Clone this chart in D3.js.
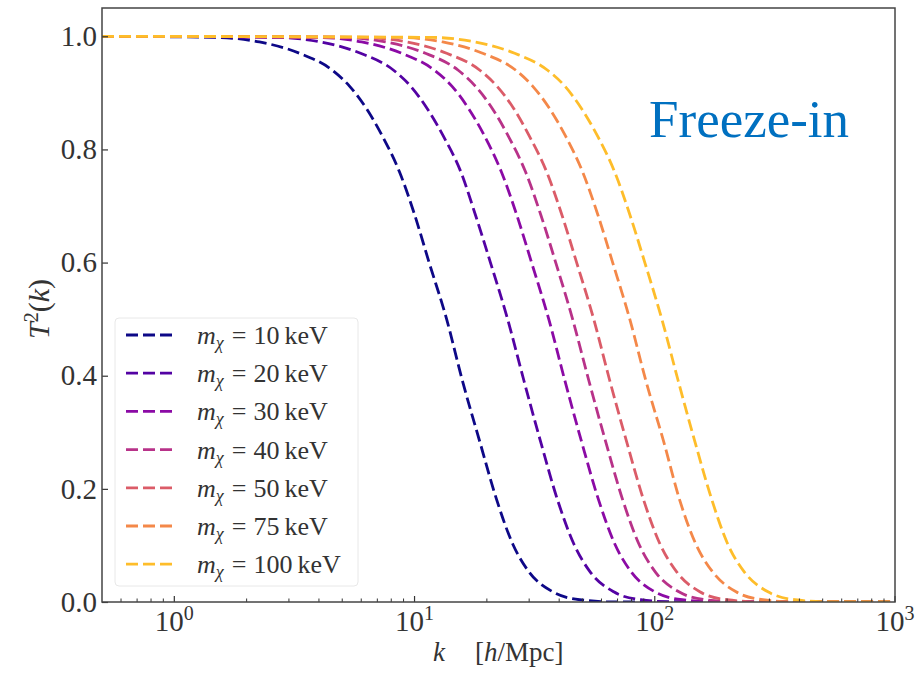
<!DOCTYPE html>
<html>
<head>
<meta charset="utf-8">
<script src="https://d3js.org/d3.v7.min.js"></script>
<style>
body { margin: 0; background: #fff; }
</style>
</head>
<body>
<div id="chart"></div>
<script>
// masses in keV, one curve each
const masses = [10, 20, 30, 40, 50, 75, 100];

// [k (h/Mpc), T^2(k)]
const t2_10 = [[0.5,1.0],[1.50,0.998],[2.26,0.990],[3.32,0.970],[4.55,0.940],[5.36,0.912],[6.31,0.872],[7.36,0.823],[8.66,0.760],[10.0,0.685],[11.5,0.600],[13.6,0.500],[15.8,0.392],[18.7,0.283],[22.0,0.180],[25.6,0.103],[30.1,0.052],[37.6,0.018],[48.7,0.004],[69.5,0.0],[1000,0]];
const t2_20 = [[0.5,1.0],[2.69,0.998],[4.06,0.990],[5.96,0.970],[8.18,0.940],[9.62,0.912],[11.3,0.872],[13.2,0.823],[15.6,0.760],[17.9,0.685],[20.7,0.600],[24.4,0.500],[28.5,0.392],[33.5,0.283],[39.4,0.180],[46.0,0.103],[54.1,0.052],[67.5,0.018],[87.4,0.004],[125,0.0],[1000,0]];
const t2_30 = [[0.5,1.0],[3.98,0.998],[6.02,0.990],[8.83,0.970],[12.1,0.940],[14.3,0.912],[16.8,0.872],[19.6,0.823],[23.0,0.760],[26.6,0.685],[30.7,0.600],[36.2,0.500],[42.2,0.392],[49.6,0.283],[58.4,0.180],[68.1,0.103],[80.2,0.052],[100,0.018],[130,0.004],[185,0.0],[1000,0]];
const t2_40 = [[0.5,1.0],[5.01,0.998],[7.57,0.990],[11.1,0.970],[15.2,0.940],[17.9,0.912],[21.1,0.872],[24.6,0.823],[29.0,0.760],[33.5,0.685],[38.7,0.600],[45.5,0.500],[53.1,0.392],[62.5,0.283],[73.6,0.180],[85.8,0.103],[101,0.052],[126,0.018],[163,0.004],[233,0.0],[1000,0]];
const t2_50 = [[0.5,1.0],[6.13,0.998],[9.26,0.990],[13.6,0.970],[18.7,0.940],[22.0,0.912],[25.9,0.872],[30.1,0.823],[35.5,0.760],[41.0,0.685],[47.3,0.600],[55.7,0.500],[64.9,0.392],[76.4,0.283],[89.9,0.180],[105,0.103],[124,0.052],[154,0.018],[200,0.004],[285,0.0],[1000,0]];
const t2_75 = [[0.5,1.0],[8.66,0.998],[13.1,0.990],[19.2,0.970],[26.4,0.940],[31.0,0.912],[36.5,0.872],[42.6,0.823],[50.1,0.760],[57.9,0.685],[66.8,0.600],[78.7,0.500],[91.7,0.392],[109,0.283],[127,0.180],[148,0.103],[175,0.052],[218,0.018],[282,0.004],[402,0.0],[1000,0]];
const t2_100 = [[0.5,1.0],[11.8,0.998],[17.8,0.990],[26.1,0.970],[35.8,0.940],[42.2,0.912],[49.6,0.872],[57.9,0.823],[68.1,0.760],[78.7,0.685],[90.9,0.600],[107,0.500],[125,0.392],[147,0.283],[173,0.180],[201,0.103],[237,0.052],[296,0.018],[383,0.004],[546,0.0],[1000,0]];
const series = [t2_10, t2_20, t2_30, t2_40, t2_50, t2_75, t2_100];

const yTicks = [0, 0.2, 0.4, 0.6, 0.8, 1.0];
const xDecades = [0, 1, 2, 3];

const width = 921, height = 673;
const margin = { left: 102, right: 26, top: 8, bottom: 71 };
const serif = "'Liberation Serif', 'Times New Roman', 'DejaVu Serif', serif";

const svg = d3.select('#chart').append('svg')
    .attr('width', width)
    .attr('height', height)
    .attr('font-family', serif);

const x = d3.scaleLog().domain([0.5, 1000]).range([margin.left, width - margin.right]);
const y = d3.scaleLinear().domain([0, 1.05]).range([height - margin.bottom, margin.top]);
const color = i => d3.interpolatePlasma(i / masses.length);

svg.append('clipPath').attr('id', 'clip')
  .append('rect')
    .attr('x', margin.left).attr('y', margin.top)
    .attr('width', x.range()[1] - margin.left)
    .attr('height', y.range()[0] - margin.top);

// curves
const line = d3.line()
    .x(d => x(d[0]))
    .y(d => y(d[1]))
    .curve(d3.curveMonotoneX);

svg.append('g').attr('clip-path', 'url(#clip)')
  .selectAll('path')
  .data(series)
  .join('path')
    .attr('d', line)
    .attr('fill', 'none')
    .attr('stroke', (d, i) => color(i))
    .attr('stroke-width', 2.8)
    .attr('stroke-dasharray', '12,5');

// y axis, ticks inward
const yAxis = svg.append('g')
    .attr('transform', 'translate(' + margin.left + ',0)')
    .call(d3.axisRight(y).tickValues(yTicks).tickSize(6).tickFormat(d3.format('.1f')));
yAxis.select('.domain').remove();
yAxis.selectAll('line').attr('stroke', '#333').attr('stroke-width', 1.2);
yAxis.selectAll('text')
    .attr('x', -5)
    .attr('text-anchor', 'end')
    .attr('fill', '#333')
    .attr('font-family', serif)
    .style('font-size', '29px');

// x axis: major + minor ticks inward
const minor = [];
for (let d = -1; d < 3; d++) {
  for (let m = 2; m <= 9; m++) {
    const v = m * Math.pow(10, d);
    if (v > 0.5 && v < 1000) minor.push(v);
  }
}
const xg = svg.append('g');
xg.selectAll('line.minor')
  .data(minor)
  .join('line')
    .attr('class', 'minor')
    .attr('x1', d => x(d)).attr('x2', d => x(d))
    .attr('y1', y(0)).attr('y2', y(0) - 3.5)
    .attr('stroke', '#333').attr('stroke-width', 1);
xg.selectAll('line.major')
  .data(xDecades)
  .join('line')
    .attr('class', 'major')
    .attr('x1', d => x(Math.pow(10, d))).attr('x2', d => x(Math.pow(10, d)))
    .attr('y1', y(0)).attr('y2', y(0) - 6)
    .attr('stroke', '#333').attr('stroke-width', 1.2);
const xl = xg.selectAll('text')
  .data(xDecades)
  .join('text')
    .attr('x', d => x(Math.pow(10, d)))
    .attr('y', y(0) + 29)
    .attr('text-anchor', 'middle')
    .attr('fill', '#333')
    .style('font-size', '29px');
xl.append('tspan').text('10');
xl.append('tspan').attr('dy', -11).style('font-size', '20px').text(d => d);

// frame
svg.append('rect')
    .attr('x', margin.left).attr('y', margin.top)
    .attr('width', x.range()[1] - margin.left)
    .attr('height', y.range()[0] - margin.top)
    .attr('fill', 'none')
    .attr('stroke', '#444')
    .attr('stroke-width', 1.5);

// axis labels
const xLabel = svg.append('text')
    .attr('x', 433).attr('y', 661)
    .attr('fill', '#333')
    .style('font-size', '27px');
xLabel.append('tspan').style('font-style', 'italic').text('k');
xLabel.append('tspan').attr('dx', 30).text('[');
xLabel.append('tspan').style('font-style', 'italic').text('h');
xLabel.append('tspan').text('/Mpc]');

const yLabel = svg.append('text')
    .attr('transform', 'translate(49,339) rotate(-90)')
    .attr('fill', '#333')
    .style('font-size', '30px');
yLabel.append('tspan').style('font-style', 'italic').text('T');
yLabel.append('tspan').attr('dy', -11).style('font-size', '20px').text('2');
yLabel.append('tspan').attr('dy', 11).text('(');
yLabel.append('tspan').style('font-style', 'italic').text('k');
yLabel.append('tspan').text(')');

// legend
const legend = svg.append('g');
legend.append('rect')
    .attr('x', 115).attr('y', 318)
    .attr('width', 243).attr('height', 268)
    .attr('rx', 4)
    .attr('fill', '#fff').attr('fill-opacity', 0.8)
    .attr('stroke', '#e8e8e8');

const rowY = i => 335 + i * 38.2;
const rows = legend.selectAll('g.row')
  .data(masses)
  .join('g')
    .attr('class', 'row')
    .attr('transform', (d, i) => 'translate(0,' + rowY(i) + ')');
rows.append('line')
    .attr('x1', 126).attr('x2', 177)
    .attr('stroke', (d, i) => color(i))
    .attr('stroke-width', 2.8)
    .attr('stroke-dasharray', '12,5');
const lt = rows.append('text')
    .attr('x', 197).attr('y', 9)
    .attr('fill', '#333')
    .style('font-size', '26px');
lt.append('tspan').style('font-style', 'italic').text('m');
lt.append('tspan').attr('dy', 5).style('font-size', '18px').style('font-style', 'italic').text('χ');
lt.append('tspan').attr('dy', -5).attr('dx', 8).text('=');
lt.append('tspan').attr('dx', 7).text(d => d);
lt.append('tspan').attr('dx', 5).text('keV');

// annotation
svg.append('text')
    .attr('x', 649).attr('y', 137)
    .attr('fill', '#0070c0')
    .style('font-size', '53px')
    .text('Freeze-in');
</script>
</body>
</html>
